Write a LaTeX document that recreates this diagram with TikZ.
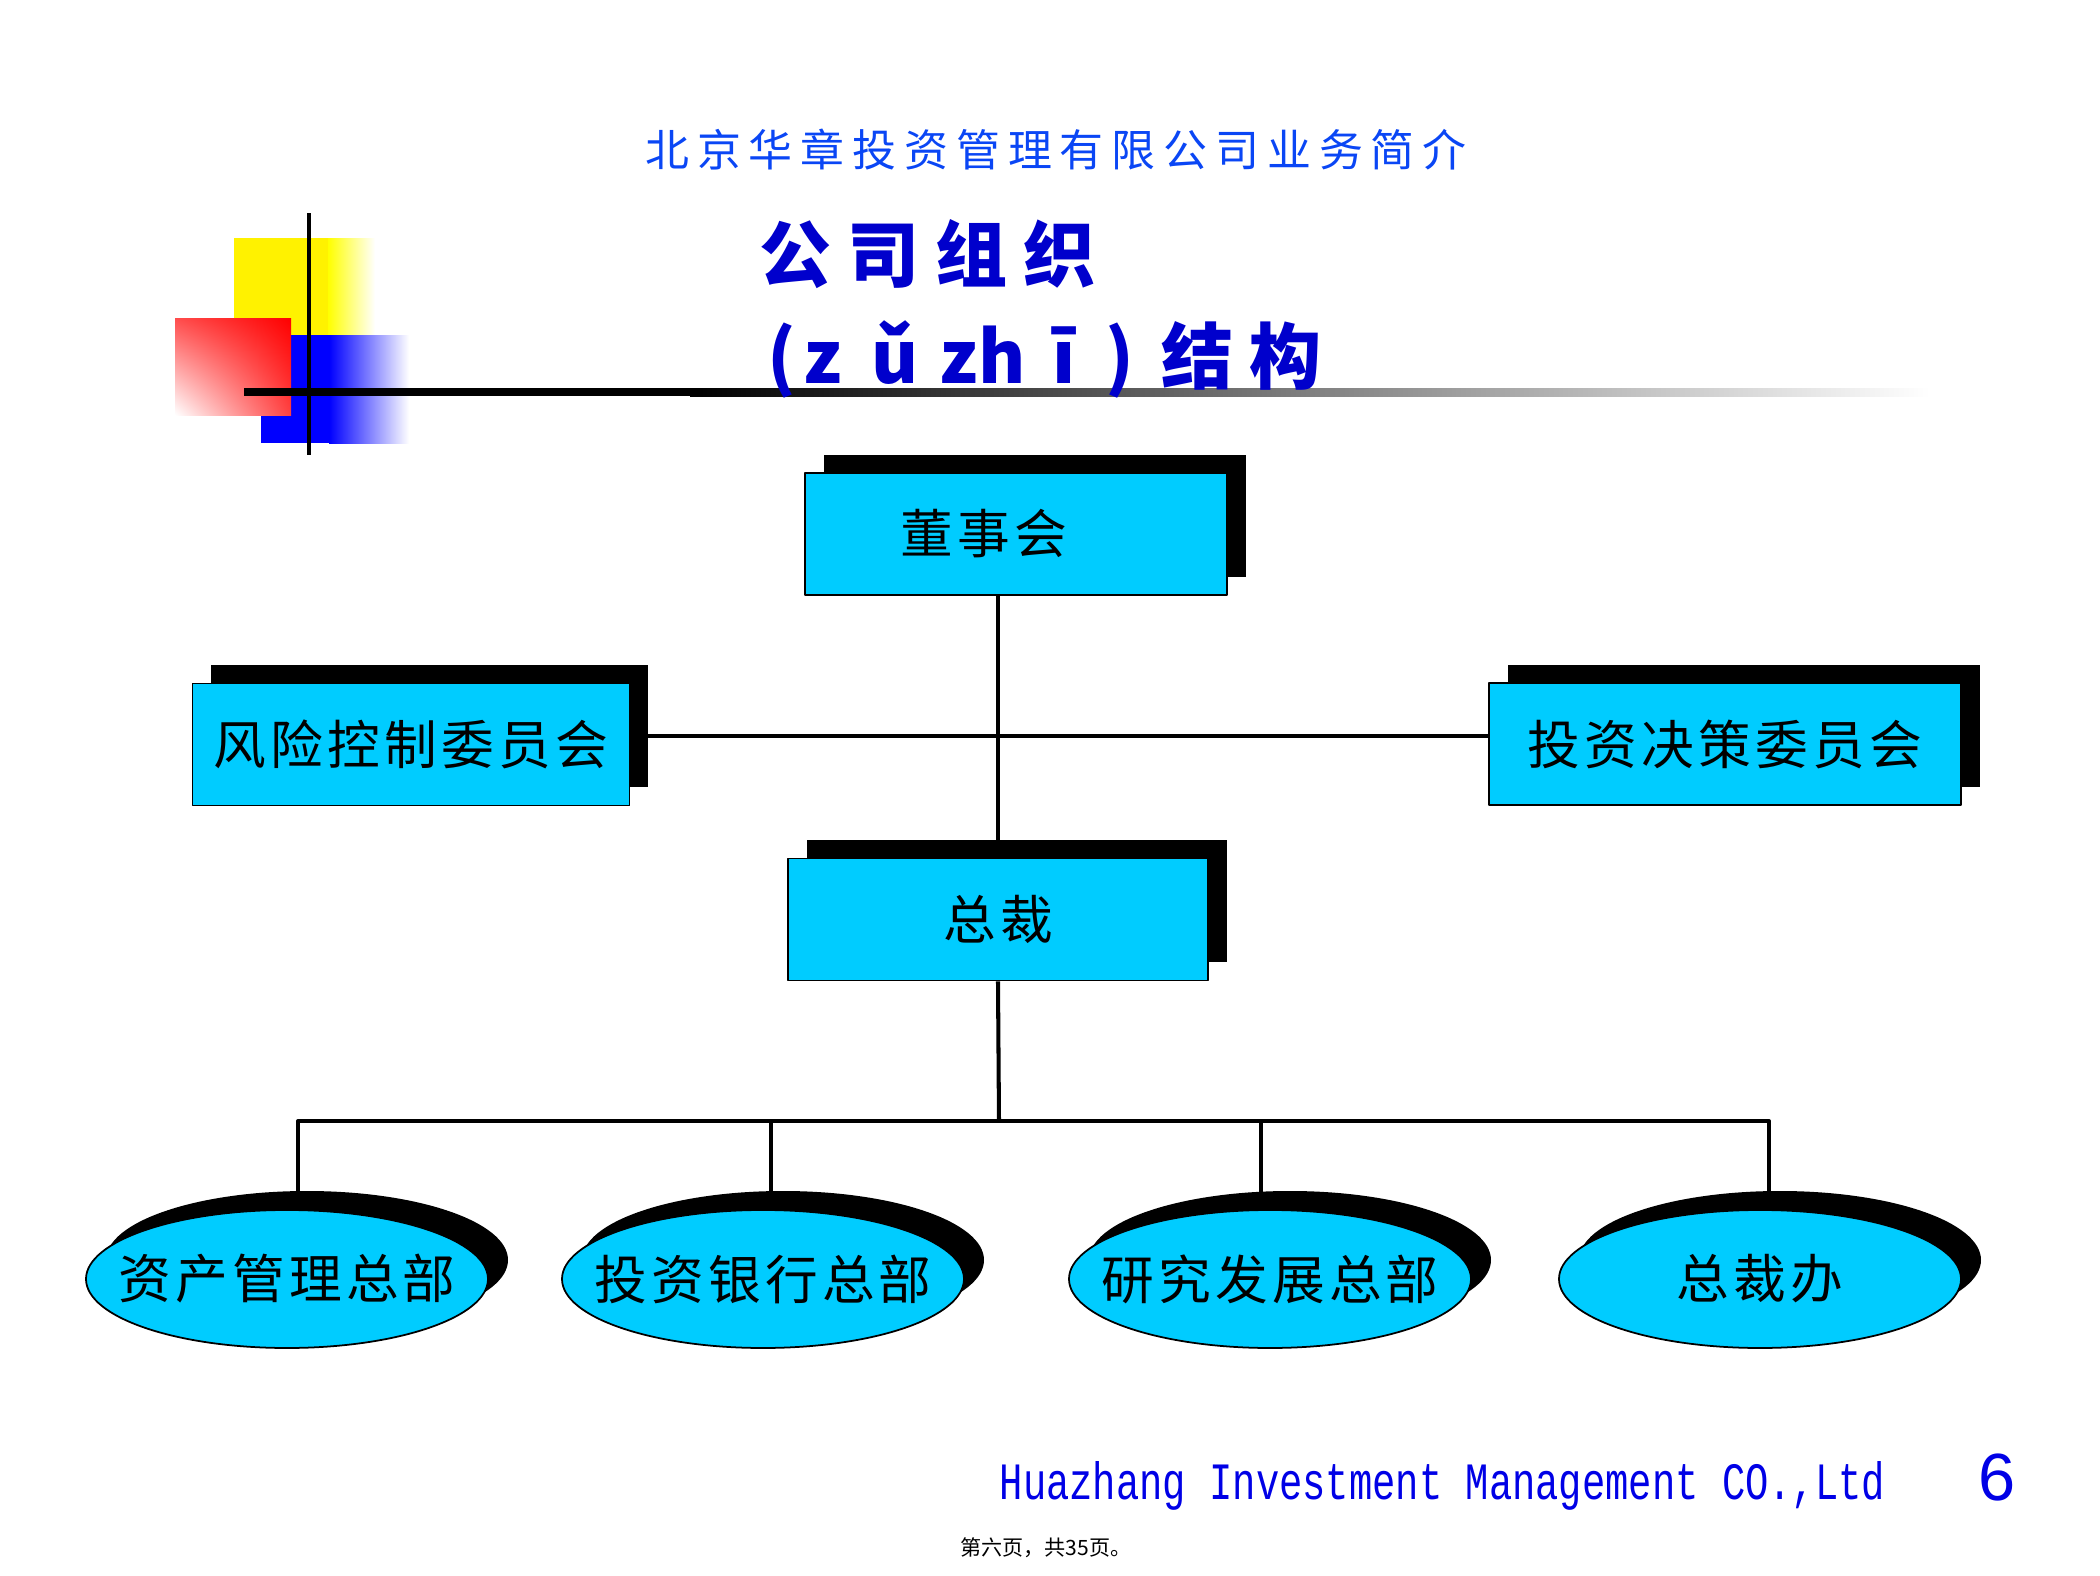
\documentclass[tikz,border=0pt]{standalone}
\usepackage{fontspec}
\usepackage{graphicx}
\usetikzlibrary{shapes.geometric,shadows,shadings,positioning}
\newfontfamily\cjk{Noto Sans CJK SC}
\newfontfamily\cjkhead[LetterSpace=18]{Noto Sans CJK SC}
\newfontfamily\cjktitle[LetterSpace=22]{Noto Sans CJK SC}
\newfontfamily\cjkbox[LetterSpace=8]{Noto Sans CJK SC}
\newfontfamily\footmono{Liberation Mono}
\newfontfamily\pagesans{Liberation Sans}
\definecolor{orgcyan}{RGB}{0,204,255}
\definecolor{headblue}{RGB}{10,70,245}
\definecolor{titleblue}{RGB}{0,0,204}
\definecolor{footblue}{RGB}{0,0,230}
\tikzset{
  orgbox/.style={draw=black,line width=0.5pt,fill=orgcyan,minimum height=1.22cm,inner sep=0pt,
    font=\cjkbox\fontsize{15}{15}\selectfont,
    drop shadow={shadow xshift=0.185cm,shadow yshift=0.185cm,fill=black,opacity=1}},
  orgoval/.style={ellipse,draw=black,line width=0.5pt,fill=orgcyan,minimum width=4.02cm,minimum height=1.38cm,inner sep=0pt,
    font=\cjkbox\fontsize{15}{15}\selectfont,
    drop shadow={shadow xshift=0.2cm,shadow yshift=0.19cm,fill=black,opacity=1}},
  orgline/.style={line width=1.15pt}
}
\begin{document}
\begin{tikzpicture}[line join=round]
\useasboundingbox (0,0) rectangle (21,-15.76);
% corner logo
\fill[yellow] (2.34,-2.38) rectangle (3.29,-3.36);
\shade[left color=yellow,right color=white] (3.28,-2.38) rectangle (3.75,-3.36);
\fill[blue] (2.61,-3.35) rectangle (3.3,-4.43);
\shade[left color=blue,right color=white] (3.29,-3.35) rectangle (4.09,-4.43);
\shade[upper right=red,lower right=red!75,upper left=red!70,lower left=white] (1.75,-3.18) rectangle (2.91,-4.15);
\shade[left color=black,right color=white] (6.9,-3.88) rectangle (19.3,-3.96);
\fill[black] (2.44,-3.88) rectangle (7.0,-3.96);
\draw[line width=1.15pt] (3.09,-2.13) -- (3.09,-4.55);
% titles
\node[font=\cjkhead\fontsize{12.5}{12.5}\selectfont,text=headblue] (head) at (10.56,-1.50) {北京华章投资管理有限公司业务简介};
\node[font=\cjktitle\bfseries\fontsize{20.5}{20.5}\selectfont,text=titleblue,anchor=west,inner sep=0pt] (title) at (7.59,-2.54) {公司组织};
\node[font=\cjk\bfseries\fontsize{20.5}{20.5}\selectfont,text=titleblue,anchor=west,inner sep=0pt] (subtitle) at (7.67,-3.59)
  {(\hspace{0.07cm}z\hspace{0.30cm}ǔ\hspace{0.21cm}zh\hspace{0.27cm}ī\hspace{0.30cm})\hspace{0.27cm}{\cjktitle\bfseries 结构}};
% boxes
\node[orgbox,minimum width=4.22cm] (board) at (10.16,-5.34) {董事会\rule{0.64cm}{0pt}};
\node[orgbox,minimum width=4.37cm] (risk) at (4.11,-7.445) {风险控制委员会};
\node[orgbox,minimum width=4.72cm] (invest) at (17.25,-7.44) {投资决策委员会};
\node[orgbox,minimum width=4.2cm] (ceo) at (9.98,-9.195) {总裁};
\draw[orgline] (ceo.north) -- (board.south -| ceo.north);
\coordinate (cross) at (9.99,-7.36);
\draw[orgline] (risk.east |- cross) -- (invest.west |- cross);
\coordinate (bus) at (9.99,-11.21);
\draw[orgline] (ceo.south) -- (bus);
% departments
\foreach \n/\x/\d/\t in {e1/2.87/0.11/资产管理总部, e2/7.63/0.08/投资银行总部, e3/12.70/-0.09/研究发展总部, e4/17.60/0.09/总裁办}{
  \node[orgoval] (\n) at (\x,-12.79) {\makebox[0pt]{\t}};
  \draw[orgline] ([xshift=\d cm]\n.north) -- ([xshift=\d cm]\n.north |- bus) -- (bus);
}
% footer
\node[font=\footmono\fontsize{11.05}{11.05}\selectfont,text=footblue,anchor=base west,inner sep=0pt] (company) at (9.99,-14.99) {\scalebox{1}[1.35]{Huazhang Investment Management CO.,Ltd}};
\node[font=\pagesans\fontsize{19}{19}\selectfont,text=footblue,anchor=base,inner sep=0pt] (pageno) at (19.97,-15.0) {6};
\node[font=\cjk\fontsize{6}{6}\selectfont,anchor=base,inner sep=0pt] (pageinfo) at (10.46,-15.55) {第六页，共35页。};
\end{tikzpicture}
\end{document}
